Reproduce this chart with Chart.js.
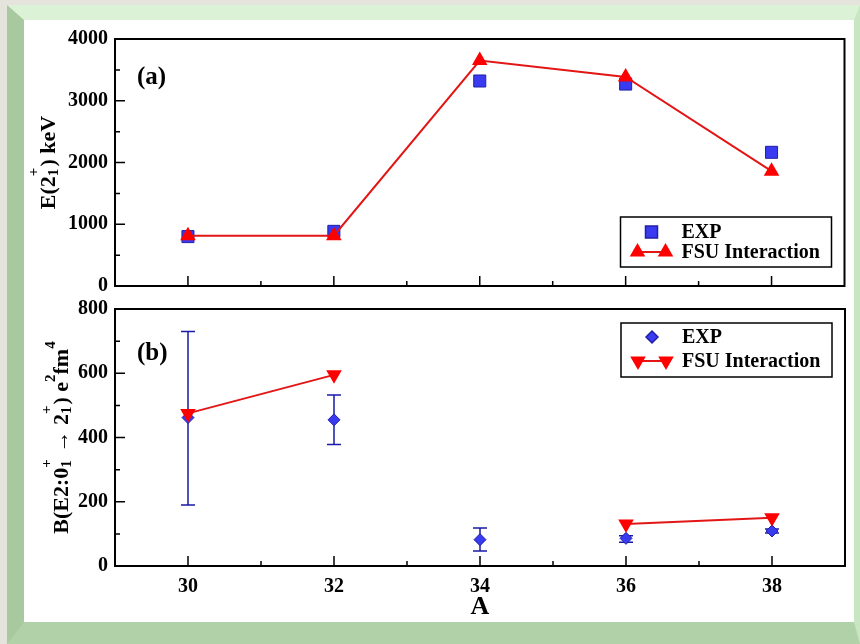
<!DOCTYPE html>
<html>
<head>
<meta charset="utf-8">
<title>E(2+) and B(E2) vs A</title>
<script src="https://cdn.jsdelivr.net/npm/chart.js@4.4.1/dist/chart.umd.min.js"></script>
<style>
    html, body { margin: 0; padding: 0; }
    body { width: 860px; height: 644px; background: #e4e4dc; position: relative; overflow: hidden; }
    #frame {
        position: absolute; left: 7px; top: 5px; width: 830px; height: 602px; background: #fff;
        border-style: solid; border-width: 15px 6px 22px 17px;
        border-color: #dcf2d6 #c9e6c2 #b1d2a9 #a8c8a0;
    }
    canvas { position: absolute; }
    #topChart { left: 24px; top: 20px; }
    #bottomChart { left: 24px; top: 290px; }
</style>
</head>
<body>
<div id="frame"></div>
<canvas id="topChart" width="830" height="285"></canvas>
<canvas id="bottomChart" width="830" height="332"></canvas>
<script>
// === Data ===
const massNumbers = [30, 32, 34, 36, 38];

// panel (a): E(2+1) in keV
const energyExp = [800, 885, 3320, 3270, 2165];
const energyFsu = [815, 815, 3650, 3385, 1860];

// panel (b): B(E2) in e2fm4
const be2Exp = [462, 455, 82, 86, 109];
const be2ExpLow = [190, 378, 47, 74, 103];
const be2ExpHigh = [730, 532, 118, 94, 115];
const be2Fsu = [475, 595, null, 131, 150];

// axis ticks
const xTicks = [30, 32, 34, 36, 38];
const xMinorTicks = [31, 33, 35, 37];
const energyTicks = [0, 1000, 2000, 3000, 4000];
const energyMinorTicks = [500, 1500, 2500, 3500];
const be2Ticks = [0, 200, 400, 600, 800];
const be2MinorTicks = [100, 300, 500, 700];

const SERIF = '"Liberation Serif", "Times New Roman", serif';
const BLUE = '#3a3af0';
const BLUE_EDGE = '#2020a8';
const ERR_BLUE = '#1a1aa8';
const RED = '#ff0000';
const RED_LINE = '#e31616';

function toPoints(values) {
    return massNumbers.map((x, i) => ({ x: x, y: values[i] }));
}

function xScale(showLabels) {
    return {
        type: 'linear', min: 29, max: 39,
        afterBuildTicks: s => { s.ticks = xTicks.map(v => ({ value: v })); },
        afterFit: s => { s.height = showLabels ? 56 : 11; },
        grid: { display: false, drawTicks: false },
        border: { display: false },
        ticks: {
            display: showLabels, padding: 9, color: '#000',
            font: { family: SERIF, size: 20, weight: 'bold' },
            callback: v => String(v)
        }
    };
}

function yScale(max, ticks) {
    return {
        type: 'linear', min: 0, max: max,
        afterBuildTicks: s => { s.ticks = ticks.map(v => ({ value: v })); },
        afterFit: s => { s.width = 91; },
        grid: { display: false, drawTicks: false },
        border: { display: false },
        ticks: {
            padding: 7, color: '#000',
            font: { family: SERIF, size: 20, weight: 'bold' },
            callback: v => String(v)
        }
    };
}

/**
 * Rotated axis title with sub/superscripts.
 * parts: {text} normal, {sup} superscript, {sub, top} stacked sub + sup
 */
function drawVerticalTitle(ctx, parts, baseX, centerY) {
    const big = `bold 22px ${SERIF}`;
    const small = `bold 15px ${SERIF}`;
    const widths = parts.map(p => {
        if (p.sub !== undefined) {
            ctx.font = small;
            return Math.max(ctx.measureText(p.sub).width, ctx.measureText(p.top).width) + 1;
        }
        ctx.font = p.sup !== undefined ? small : big;
        return ctx.measureText(p.sup !== undefined ? p.sup : p.text).width;
    });
    const total = widths.reduce((s, w) => s + w, 0);
    ctx.save();
    ctx.translate(baseX, centerY);
    ctx.rotate(-Math.PI / 2);
    ctx.textAlign = 'left';
    ctx.textBaseline = 'alphabetic';
    ctx.fillStyle = '#000';
    let pos = -total / 2;
    parts.forEach((p, i) => {
        if (p.sub !== undefined) {
            ctx.font = small;
            ctx.fillText(p.sub, pos, 3);
            ctx.fillText(p.top, pos, -17);
        } else if (p.sup !== undefined) {
            ctx.font = small;
            ctx.fillText(p.sup, pos, -13);
        } else {
            ctx.font = big;
            ctx.fillText(p.text, pos, 0);
        }
        pos += widths[i];
    });
    ctx.restore();
}

function drawErrorBars(chart, low, high) {
    const { ctx, scales: { x, y } } = chart;
    ctx.save();
    ctx.strokeStyle = ERR_BLUE;
    ctx.lineWidth = 1.5;
    massNumbers.forEach((m, i) => {
        const px = x.getPixelForValue(m);
        const y1 = y.getPixelForValue(low[i]);
        const y2 = y.getPixelForValue(high[i]);
        ctx.beginPath();
        ctx.moveTo(px, y1); ctx.lineTo(px, y2);
        ctx.moveTo(px - 7, y1); ctx.lineTo(px + 7, y1);
        ctx.moveTo(px - 7, y2); ctx.lineTo(px + 7, y2);
        ctx.stroke();
    });
    ctx.restore();
}

// === Frame, inward ticks, panel label, boxed legend, titles ===
function decorPlugin(cfg) {
    return {
        id: 'decor' + cfg.label.replace(/\W/g, ''),
        beforeDatasetsDraw(chart) {
            if (cfg.errLow) drawErrorBars(chart, cfg.errLow, cfg.errHigh);
        },
        afterDraw(chart) {
            const { ctx, chartArea: a, scales: { x, y } } = chart;
            ctx.save();
            ctx.strokeStyle = '#000';
            ctx.lineWidth = 1.5;
            ctx.beginPath();
            xTicks.forEach(v => { const p = x.getPixelForValue(v); ctx.moveTo(p, a.bottom); ctx.lineTo(p, a.bottom - 10); });
            xMinorTicks.forEach(v => { const p = x.getPixelForValue(v); ctx.moveTo(p, a.bottom); ctx.lineTo(p, a.bottom - 5); });
            cfg.yTicks.forEach(v => { const p = y.getPixelForValue(v); ctx.moveTo(a.left, p); ctx.lineTo(a.left + 10, p); });
            cfg.yMinor.forEach(v => { const p = y.getPixelForValue(v); ctx.moveTo(a.left, p); ctx.lineTo(a.left + 5, p); });
            ctx.stroke();

            ctx.lineWidth = 2;
            ctx.strokeRect(a.left, a.top, a.right - a.left, a.bottom - a.top);

            // panel label
            ctx.fillStyle = '#000';
            ctx.font = `bold 25px ${SERIF}`;
            ctx.textAlign = 'left';
            ctx.textBaseline = 'middle';
            ctx.fillText(cfg.label, a.left + 22, a.top + cfg.labelDy);

            // legend box
            const bx = a.right - 224, by = a.top + cfg.legendDy, bw = 211, bh = cfg.legendH;
            ctx.lineWidth = 1.5;
            ctx.strokeRect(bx, by, bw, bh);
            const row1 = by + cfg.rowDy[0], row2 = by + cfg.rowDy[1];
            ctx.fillStyle = BLUE; ctx.strokeStyle = BLUE_EDGE;
            Chart.helpers.drawPoint(ctx, cfg.expStyle, bx + 31, row1);
            ctx.strokeStyle = RED_LINE; ctx.lineWidth = 2;
            ctx.beginPath(); ctx.moveTo(bx + 17, row2); ctx.lineTo(bx + 45, row2); ctx.stroke();
            ctx.fillStyle = RED; ctx.strokeStyle = RED;
            Chart.helpers.drawPoint(ctx, cfg.fsuStyle, bx + 17, row2);
            Chart.helpers.drawPoint(ctx, cfg.fsuStyle, bx + 45, row2);
            ctx.fillStyle = '#000';
            ctx.font = `bold 20px ${SERIF}`;
            ctx.fillText('EXP', bx + 61, row1 + 1);
            ctx.fillText('FSU Interaction', bx + 61, row2 + 1);

            drawVerticalTitle(ctx, cfg.yTitle, a.left - cfg.titleGap, (a.top + a.bottom) / 2);

            if (cfg.xTitle) {
                ctx.font = `bold 26px ${SERIF}`;
                ctx.textAlign = 'center';
                ctx.fillText(cfg.xTitle, (a.left + a.right) / 2, a.bottom + 41);
            }
            ctx.restore();
        }
    };
}

const squareStyle = { pointStyle: 'rect', radius: 8.5, rotation: 0, borderWidth: 1 };
const upTriangle = { pointStyle: 'triangle', radius: 9, rotation: 0, borderWidth: 0 };
const diamondStyle = { pointStyle: 'rectRot', radius: 6, rotation: 0, borderWidth: 1 };
const downTriangle = { pointStyle: 'triangle', radius: 9, rotation: 180, borderWidth: 0 };

function scatterSet(label, values, style, order) {
    return {
        label: label, data: toPoints(values), order: order,
        showLine: false,
        backgroundColor: BLUE, borderColor: BLUE_EDGE,
        pointStyle: style.pointStyle, pointRadius: style.radius,
        pointRotation: style.rotation, pointBorderWidth: style.borderWidth
    };
}

function fsuSet(values, style) {
    return {
        label: 'FSU Interaction', data: toPoints(values), order: 0,
        showLine: true, spanGaps: false,
        borderColor: RED_LINE, borderWidth: 2,
        pointBackgroundColor: RED, pointBorderColor: RED,
        pointStyle: style.pointStyle, pointRadius: style.radius,
        pointRotation: style.rotation, pointBorderWidth: 0
    };
}

const baseOptions = (padTop, showX, yMax, yTicks) => ({
    responsive: false,
    animation: false,
    layout: { padding: { top: padTop, right: 6, left: 0, bottom: 0 } },
    plugins: { legend: { display: false }, tooltip: { enabled: false } },
    scales: { x: xScale(showX), y: yScale(yMax, yTicks) }
});

new Chart(document.getElementById('topChart'), {
    type: 'scatter',
    data: {
        datasets: [
            fsuSet(energyFsu, upTriangle),
            scatterSet('EXP', energyExp, squareStyle, 1)
        ]
    },
    options: baseOptions(15, false, 4000, energyTicks),
    plugins: [decorPlugin({
        label: '(a)', labelDy: 39,
        yTicks: energyTicks, yMinor: energyMinorTicks,
        legendDy: 178, legendH: 50, rowDy: [15, 35],
        expStyle: squareStyle, fsuStyle: upTriangle,
        titleGap: 60,
        yTitle: [{ text: 'E(2' }, { sub: '1', top: '+' }, { text: ') keV' }]
    })]
});

new Chart(document.getElementById('bottomChart'), {
    type: 'scatter',
    data: {
        datasets: [
            fsuSet(be2Fsu, downTriangle),
            scatterSet('EXP', be2Exp, diamondStyle, 1)
        ]
    },
    options: baseOptions(19, true, 800, be2Ticks),
    plugins: [decorPlugin({
        label: '(b)', labelDy: 45,
        yTicks: be2Ticks, yMinor: be2MinorTicks,
        legendDy: 14, legendH: 54, rowDy: [14, 38],
        expStyle: diamondStyle, fsuStyle: downTriangle,
        errLow: be2ExpLow, errHigh: be2ExpHigh,
        titleGap: 47,
        xTitle: 'A',
        yTitle: [{ text: 'B(E2:0' }, { sub: '1', top: '+' }, { text: ' \u2192 2' }, { sub: '1', top: '+' },
                 { text: ') e' }, { sup: '2' }, { text: 'fm' }, { sup: '4' }]
    })]
});
</script>
</body>
</html>
